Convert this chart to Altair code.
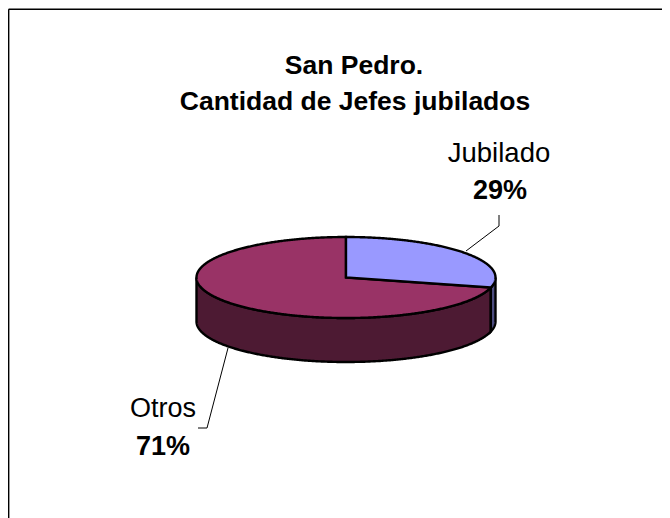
import numpy as np
import pandas as pd
import altair as alt

title_lines = ["San Pedro.", "Cantidad de Jefes jubilados"]
categories = ["Jubilado", "Otros"]
values = [29, 71]
percent_labels = ["29%", "71%"]
top_colors = ["#9999FF", "#993366"]
side_colors = ["#4D4D80", "#4D1A33"]

W, H = 654, 510
CX, CY, A, B = 346 - 8, 277.5 - 8, 149.5, 40.5
DEPTH = 44 / B

x_scale = alt.Scale(domain=[-1, 1], range=[CX - A, CX + A])
y_scale = alt.Scale(domain=[-1, 1], range=[CY - B, CY + B])


def rim(start, end, drop=0.0):
    t = np.radians(np.linspace(start, end, max(int(abs(end - start)) * 2, 8)))
    return list(np.sin(t)), list(-np.cos(t) + drop)


def polygon(xs, ys, color, width=2.4):
    df = pd.DataFrame({"x": xs, "y": ys, "o": range(len(xs))})
    return alt.Chart(df).mark_line(
        interpolate="linear-closed", fill=color, stroke="black", strokeWidth=width
    ).encode(
        x=alt.X("x:Q", scale=x_scale, axis=None),
        y=alt.Y("y:Q", scale=y_scale, axis=None),
        order="o:Q",
    )


split = values[0] / sum(values) * 360
layers = []

# side wall
xa, ya = rim(split, 270)
xb, yb = rim(270, split, DEPTH)
layers.append(polygon(xa + xb, ya + yb, side_colors[1]))
xa, ya = rim(90, split)
xb, yb = rim(split, 90, DEPTH)
layers.append(polygon(xa + xb, ya + yb, side_colors[0]))

# top surface
xa, ya = rim(split, 360)
layers.append(polygon([0.0] + xa, [0.0] + ya, top_colors[1]))
xa, ya = rim(0, split)
layers.append(polygon([0.0] + xa, [0.0] + ya, top_colors[0]))


def leader(points):
    charts = []
    for (x1, y1), (x2, y2) in zip(points[:-1], points[1:]):
        charts.append(
            alt.Chart(pd.DataFrame({"a": [0]})).mark_rule(color="black", strokeWidth=1).encode(
                x=alt.value(x1 - 8), x2=alt.value(x2 - 8),
                y=alt.value(y1 - 8), y2=alt.value(y2 - 8),
            )
        )
    return charts


layers += leader([(499, 215), (499, 226), (466, 251)])
layers += leader([(198, 428), (207, 428), (228, 348)])

# frame: top and left edges
layers += [
    alt.Chart(pd.DataFrame({"a": [0]})).mark_rule(color="black", strokeWidth=1.6).encode(
        x=alt.value(0.6), x2=alt.value(W), y=alt.value(1.2), y2=alt.value(1.2)),
    alt.Chart(pd.DataFrame({"a": [0]})).mark_rule(color="black", strokeWidth=1.6).encode(
        x=alt.value(0.6), x2=alt.value(0.6), y=alt.value(1.2), y2=alt.value(H)),
]


def text(label, x, y, size, bold):
    return alt.Chart(pd.DataFrame({"t": [label]})).mark_text(
        font="Liberation Sans", fontSize=size, fontWeight="bold" if bold else "normal",
        color="black", align="center", baseline="alphabetic",
    ).encode(text="t:N", x=alt.value(x - 8), y=alt.value(y - 8))


layers += [
    text(title_lines[0], 354, 74, 26.5, True),
    text(title_lines[1], 355, 110, 26.5, True),
    text(categories[0], 499, 162, 27.5, False),
    text(percent_labels[0], 500, 199, 27, True),
    text(categories[1], 163, 417, 27, False),
    text(percent_labels[1], 163, 455, 27, True),
]

chart = alt.layer(*layers).properties(
    width=W, height=H, padding=0,
    autosize=alt.AutoSizeParams(type="none"),
    background="white",
).configure_view(stroke=None)

chart.save("out.html", embed_options={"renderer": "svg", "actions": False})
